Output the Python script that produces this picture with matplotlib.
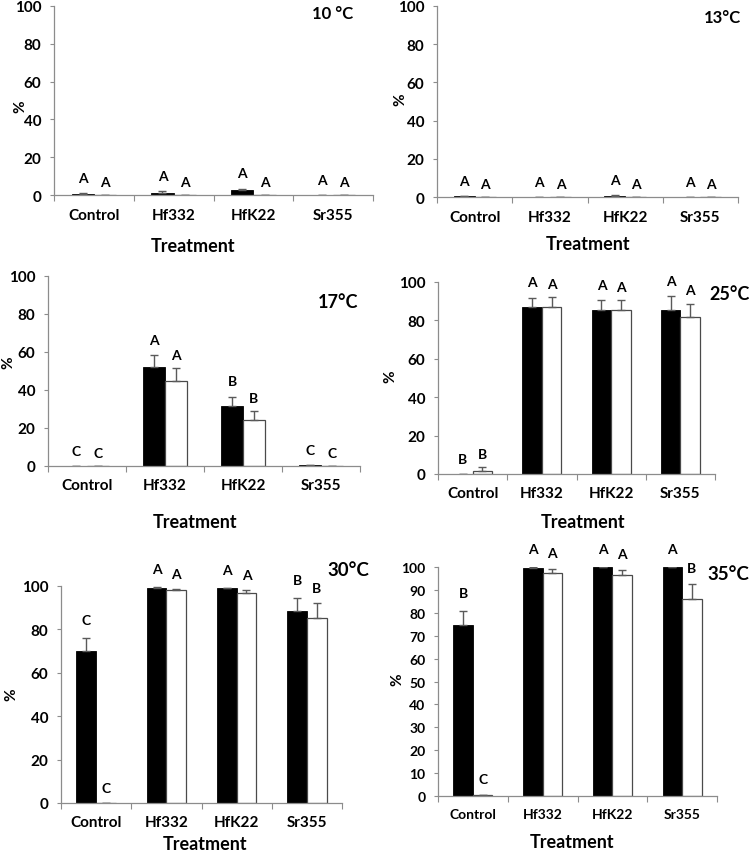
import numpy as np
import matplotlib
matplotlib.use('Agg')
import matplotlib.pyplot as plt

plt.rcParams['font.family'] = ['Lato', 'DejaVu Sans']
plt.rcParams['font.weight'] = 'bold'

W, H = 749, 854

categories = ['Control', 'Hf332', 'HfK22', 'Sr355']
temps = ['10 °C', '13°C', '17°C', '25°C', '30°C', '35°C']

# dark bars
black_10 = [0.7, 1.2, 2.5, 0]
black_13 = [0.4, 0, 0.6, 0]
black_17 = [0, 52, 31.5, 0.3]
black_25 = [0, 87, 85.2, 85.6]
black_30 = [70.1, 99.2, 98.9, 88.5]
black_35 = [74.7, 99.6, 100, 100]

black_err_10 = [0.2, 0.8, 0.9, 0]
black_err_13 = [0.2, 0, 0.3, 0]
black_err_17 = [0, 6.3, 5, 0.3]
black_err_25 = [0, 4.9, 5.2, 7]
black_err_30 = [6.1, 0.5, 0.3, 6.1]
black_err_35 = [6, 0.3, 0, 0]

# white bars
white_10 = [0, 0, 0, 0]
white_13 = [0, 0, 0, 0]
white_17 = [0, 45, 24.4, 0]
white_25 = [1.8, 87, 85.6, 81.7]
white_30 = [0, 98, 96.6, 85.4]
white_35 = [0.3, 97.5, 96.4, 86.1]

white_err_10 = [0, 0, 0, 0]
white_err_13 = [0, 0, 0, 0]
white_err_17 = [0, 6.6, 4.6, 0]
white_err_25 = [1.8, 5, 4.8, 7]
white_err_30 = [0, 0.5, 1.6, 6.9]
white_err_35 = [0.2, 1.8, 2.1, 6.5]

# significance letters
black_letters_10 = ['A', 'A', 'A', 'A']
white_letters_10 = ['A', 'A', 'A', 'A']
black_letters_13 = ['A', 'A', 'A', 'A']
white_letters_13 = ['A', 'A', 'A', 'A']
black_letters_17 = ['C', 'A', 'B', 'C']
white_letters_17 = ['C', 'A', 'B', 'C']
black_letters_25 = ['B', 'A', 'A', 'A']
white_letters_25 = ['B', 'A', 'A', 'A']
black_letters_30 = ['C', 'A', 'A', 'B']
white_letters_30 = ['C', 'A', 'A', 'B']
black_letters_35 = ['B', 'A', 'A', 'A']
white_letters_35 = ['C', 'A', 'A', 'B']

panels = [
    (black_10, black_err_10, white_10, white_err_10, black_letters_10, white_letters_10),
    (black_13, black_err_13, white_13, white_err_13, black_letters_13, white_letters_13),
    (black_17, black_err_17, white_17, white_err_17, black_letters_17, white_letters_17),
    (black_25, black_err_25, white_25, white_err_25, black_letters_25, white_letters_25),
    (black_30, black_err_30, white_30, white_err_30, black_letters_30, white_letters_30),
    (black_35, black_err_35, white_35, white_err_35, black_letters_35, white_letters_35),
]

# layout in pixels: axes box (left, top, right, bottom), title xy, xlabel xy, ylabel xy
boxes = [(54, 7, 373, 196), (437, 7, 738, 198), (48, 277, 360, 467),
         (438, 283, 715, 475), (61, 587, 342, 804), (438, 568, 717, 797)]
title_xy = [(333, 14), (722, 18), (338, 302), (730, 295), (348, 570), (728, 575)]
title_fs = [12, 12, 13, 13, 13.5, 13.5]
xlab_xy = [(193, 247), (588, 245), (195, 523), (583, 523), (205, 845), (572, 843)]
xlab_fs = [13, 13, 13, 13, 13, 13]
ylab_xy = [(20, 107), (400, 100), (8, 363), (390, 377), (11, 695), (397, 680)]

fig = plt.figure(figsize=(W / 100, H / 100), dpi=100)
x = np.arange(len(categories))
w = 0.28
grey = '#8c8c8c'

for i, (bk, bke, wh, whe, bl, wl) in enumerate(panels):
    l, t, r, b = boxes[i]
    ax = fig.add_axes([l / W, 1 - b / H, (r - l) / W, (b - t) / H])

    ax.bar(x - w / 2, bk, w, color='black', edgecolor='black', linewidth=0.6,
           yerr=[np.zeros(4), bke], error_kw=dict(ecolor='#5a5a5a', elinewidth=1, capsize=3, capthick=1))
    ax.bar(x + w / 2, wh, w, color='white', edgecolor='#4a4a4a', linewidth=0.9,
           yerr=[np.zeros(4), whe], error_kw=dict(ecolor='#5a5a5a', elinewidth=1, capsize=3, capthick=1))

    for j in range(len(categories)):
        ax.text(x[j] - w / 2, bk[j] + bke[j] + 8, bl[j], ha='center', va='center',
                fontsize=10, fontweight='bold', clip_on=False)
        ax.text(x[j] + w / 2, wh[j] + whe[j] + 7, wl[j], ha='center', va='center',
                fontsize=10, fontweight='bold', clip_on=False)

    ax.set_xlim(-0.5, 3.5)
    ax.set_ylim(0, 100)
    if i == 5:
        ax.set_yticks(np.arange(0, 101, 10))
        tfs = 10
    else:
        ax.set_yticks(np.arange(0, 101, 20))
        tfs = 11
    ax.set_xticks(x)
    ax.set_xticklabels(categories)
    ax.set_xticks(np.arange(-0.5, 4, 1), minor=True)
    ax.tick_params(axis='x', which='major', length=0, pad=9, labelsize=tfs)
    ax.tick_params(axis='x', which='minor', length=4, color=grey, width=0.8)
    ax.tick_params(axis='y', length=3, color=grey, width=0.8, labelsize=tfs, pad=6)
    for lab in ax.get_xticklabels() + ax.get_yticklabels():
        lab.set_fontweight('bold')

    for s in ['top', 'right']:
        ax.spines[s].set_visible(False)
    for s in ['left', 'bottom']:
        ax.spines[s].set_color(grey)
        ax.spines[s].set_linewidth(0.9)

    ax.set_xlabel('Treatment', fontsize=xlab_fs[i], fontweight='bold')
    xl, yl = xlab_xy[i]
    ax.xaxis.set_label_coords((xl - l) / (r - l), (b - yl) / (b - t))
    ax.xaxis.label.set_verticalalignment('center')

    ax.set_ylabel('%', fontsize=11, fontweight='bold')
    xl, yl = ylab_xy[i]
    ax.yaxis.set_label_coords((xl - l) / (r - l), (b - yl) / (b - t))
    ax.yaxis.label.set_verticalalignment('center')

    tx, ty = title_xy[i]
    ax.text((tx - l) / (r - l), (b - ty) / (b - t), temps[i], transform=ax.transAxes,
            ha='center', va='center', fontsize=title_fs[i], fontweight='bold', clip_on=False)

fig.savefig('out.png', dpi=100)
